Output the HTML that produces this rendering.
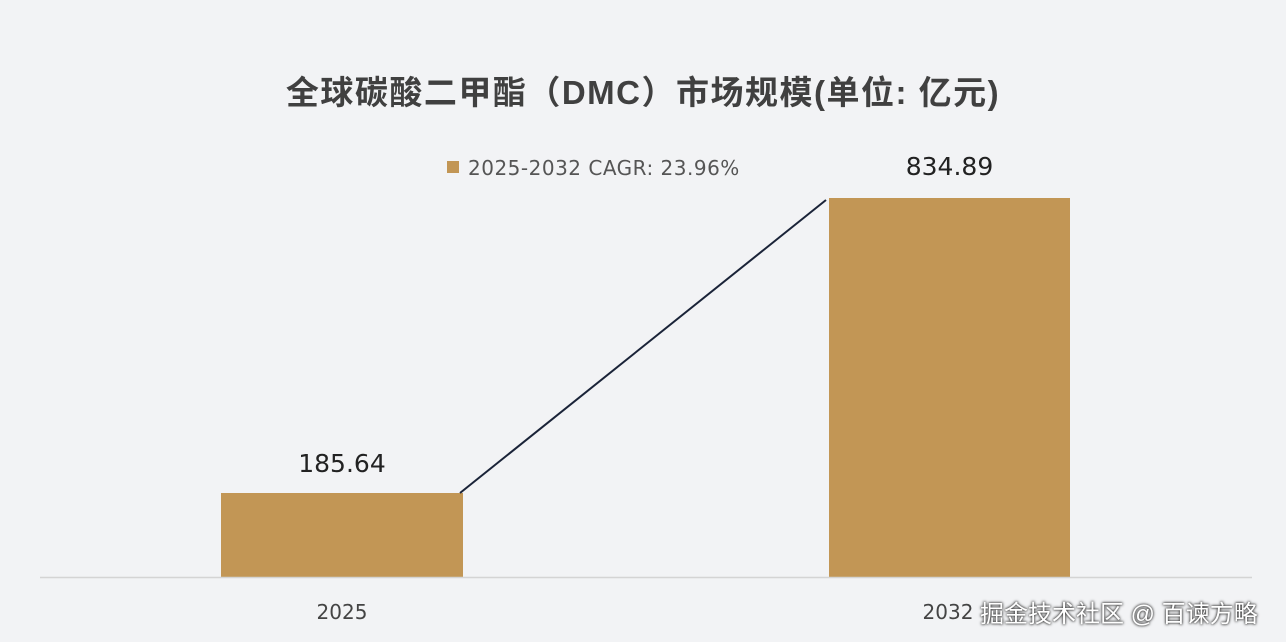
<!DOCTYPE html>
<html><head><meta charset="utf-8"><style>
html,body{margin:0;padding:0;}
body{width:1286px;height:642px;background:#f2f3f5;position:relative;overflow:hidden;font-family:"Liberation Sans","Noto Sans CJK SC",sans-serif;}
.t{position:absolute;white-space:nowrap;}
.d{font-family:"DejaVu Sans",sans-serif;}
</style></head><body>
<svg width="1286" height="642" style="position:absolute;left:0;top:0">
<rect x="221" y="493" width="242" height="84" fill="#c29655"/>
<rect x="829" y="198" width="241" height="379" fill="#c29655"/>
<line x1="40" y1="577.5" x2="1252" y2="577.5" stroke="#d4d4d4" stroke-width="1.5"/>
<line x1="460" y1="493" x2="826" y2="200" stroke="#1a2338" stroke-width="2"/>
<rect x="447" y="161" width="12" height="12" fill="#c29655"/>
</svg>
<div class="t" style="left:0;width:1286px;text-align:center;top:66px;font-size:33px;letter-spacing:1.5px;font-weight:bold;color:#404040;">全球碳酸二甲酯（DMC）市场规模(单位: 亿元)</div>
<div class="t d" style="left:468px;top:156px;font-size:20px;letter-spacing:0.5px;color:#555;">2025-2032 CAGR: 23.96%</div>
<div class="t d" style="left:221px;width:242px;text-align:center;top:449px;font-size:25px;color:#222;">185.64</div>
<div class="t d" style="left:829px;width:241px;text-align:center;top:152px;font-size:25px;color:#222;">834.89</div>
<div class="t d" style="left:221px;width:242px;text-align:center;top:600px;font-size:20px;color:#444;">2025</div>
<div class="t d" style="left:898px;width:100px;text-align:center;top:600px;font-size:20px;color:#444;">2032</div>
<div class="t" style="left:980px;top:594px;font-size:24px;color:#fff;text-shadow:0 0 3px #333,0 0 2px #333;">掘金技术社区 @ 百谏方略</div>
</body></html>
